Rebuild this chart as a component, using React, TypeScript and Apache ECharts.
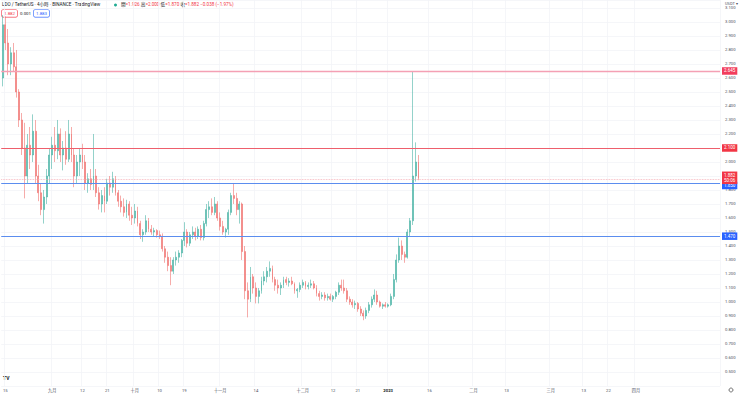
import React, { useEffect, useRef } from "react";
import * as echarts from "echarts";

// ---- data (daily approximation of the 4h LDO/USDT chart) ----
const startDate = "2022-08-14";
const totalDays = 261; // axis domain: Aug 14 2022 -> May 1 2023

const opens = [
  2.60, 2.98, 2.85, 2.70, 2.78, 2.68, 2.50, 2.30, 2.10, 1.90,
  2.12, 2.05, 2.22, 1.90, 1.78, 1.66, 1.75, 1.90, 2.05, 2.12,
  2.08, 2.20, 2.05, 2.10, 2.02, 2.20, 2.05, 1.90, 2.00, 2.05,
  2.00, 1.85, 1.88, 1.84, 1.90, 1.78, 1.70, 1.76, 1.72, 1.85,
  1.82, 1.88, 1.78, 1.72, 1.68, 1.64, 1.70, 1.62, 1.60, 1.65,
  1.56, 1.48, 1.50, 1.58, 1.52, 1.50, 1.51, 1.48, 1.47, 1.38,
  1.32, 1.26, 1.22, 1.30, 1.32, 1.35, 1.44, 1.50, 1.42, 1.48,
  1.50, 1.47, 1.52, 1.46, 1.56, 1.66, 1.68, 1.64, 1.70, 1.60,
  1.54, 1.50, 1.52, 1.64, 1.76, 1.74, 1.66, 1.70, 1.36, 1.08,
  1.02, 1.18, 1.10, 1.04, 1.08, 1.15, 1.18, 1.22, 1.24, 1.16,
  1.12, 1.10, 1.12, 1.16, 1.14, 1.15, 1.13, 1.08, 1.09, 1.12,
  1.14, 1.11, 1.12, 1.13, 1.10, 1.06, 1.04, 1.05, 1.03, 1.04,
  1.02, 1.04, 1.07, 1.12, 1.10, 1.08, 1.02, 1.00, 0.98, 0.99,
  0.95, 0.92, 0.90, 0.94, 0.98, 1.02, 1.05, 1.00, 0.97, 0.98,
  0.97, 0.98, 1.04, 1.16, 1.30, 1.40, 1.34, 1.32, 1.50, 1.58,
  1.90, 2.00,
];
const closes = [
  2.98, 2.85, 2.70, 2.78, 2.68, 2.50, 2.30, 2.10, 1.90, 2.12,
  2.05, 2.22, 1.90, 1.78, 1.66, 1.75, 1.90, 2.05, 2.12, 2.08,
  2.20, 2.05, 2.10, 2.02, 2.20, 2.05, 1.90, 2.00, 2.05, 2.00,
  1.85, 1.88, 1.84, 1.90, 1.78, 1.70, 1.76, 1.72, 1.85, 1.82,
  1.88, 1.78, 1.72, 1.68, 1.64, 1.70, 1.62, 1.60, 1.65, 1.56,
  1.48, 1.50, 1.58, 1.52, 1.50, 1.51, 1.48, 1.47, 1.38, 1.32,
  1.26, 1.22, 1.30, 1.32, 1.35, 1.44, 1.50, 1.42, 1.48, 1.50,
  1.47, 1.52, 1.46, 1.56, 1.66, 1.68, 1.64, 1.70, 1.60, 1.54,
  1.50, 1.52, 1.64, 1.76, 1.74, 1.66, 1.70, 1.36, 1.08, 1.02,
  1.18, 1.10, 1.04, 1.08, 1.15, 1.18, 1.22, 1.24, 1.16, 1.12,
  1.10, 1.12, 1.16, 1.14, 1.15, 1.13, 1.08, 1.09, 1.12, 1.14,
  1.11, 1.12, 1.13, 1.10, 1.06, 1.04, 1.05, 1.03, 1.04, 1.02,
  1.04, 1.07, 1.12, 1.10, 1.08, 1.02, 1.00, 0.98, 0.99, 0.95,
  0.92, 0.90, 0.94, 0.98, 1.02, 1.05, 1.00, 0.97, 0.98, 0.97,
  0.98, 1.04, 1.16, 1.30, 1.40, 1.34, 1.32, 1.50, 1.58, 1.90,
  2.00, 1.882,
];
const highs = [
  3.05, 3.04, 2.95, 2.82, 2.85, 2.80, 2.52, 2.35, 2.28, 2.20,
  2.25, 2.34, 2.30, 1.98, 1.85, 1.80, 1.95, 2.10, 2.18, 2.25,
  2.30, 2.24, 2.15, 2.22, 2.30, 2.25, 2.10, 2.05, 2.10, 2.13,
  2.05, 1.92, 1.95, 2.20, 1.95, 1.82, 1.80, 1.82, 1.88, 1.90,
  1.93, 1.90, 1.80, 1.76, 1.74, 1.73, 1.72, 1.68, 1.70, 1.68,
  1.58, 1.52, 1.62, 1.60, 1.55, 1.53, 1.52, 1.51, 1.49, 1.40,
  1.36, 1.32, 1.32, 1.36, 1.37, 1.45, 1.57, 1.52, 1.50, 1.54,
  1.53, 1.54, 1.55, 1.58, 1.70, 1.72, 1.74, 1.75, 1.72, 1.64,
  1.58, 1.53, 1.66, 1.78, 1.85, 1.78, 1.72, 1.71, 1.40, 1.14,
  1.25, 1.20, 1.14, 1.10, 1.18, 1.22, 1.25, 1.29, 1.26, 1.18,
  1.16, 1.14, 1.18, 1.18, 1.17, 1.18, 1.14, 1.10, 1.14, 1.16,
  1.15, 1.14, 1.16, 1.15, 1.12, 1.08, 1.07, 1.07, 1.06, 1.06,
  1.05, 1.08, 1.14, 1.16, 1.16, 1.10, 1.04, 1.02, 1.01, 1.00,
  0.97, 0.94, 0.96, 1.00, 1.04, 1.09, 1.08, 1.01, 0.99, 1.00,
  0.99, 1.06, 1.20, 1.34, 1.46, 1.44, 1.36, 1.52, 1.60, 2.645,
  2.14, 2.05,
];
const lows = [
  2.54, 2.80, 2.62, 2.62, 2.65, 2.46, 2.25, 2.05, 1.74, 1.85,
  1.95, 2.00, 1.85, 1.72, 1.62, 1.56, 1.70, 1.85, 1.95, 2.00,
  2.02, 2.00, 1.94, 1.98, 2.00, 2.00, 1.82, 1.85, 1.90, 1.95,
  1.80, 1.78, 1.80, 1.80, 1.75, 1.66, 1.64, 1.64, 1.70, 1.76,
  1.78, 1.76, 1.68, 1.64, 1.61, 1.60, 1.58, 1.55, 1.56, 1.54,
  1.45, 1.43, 1.48, 1.50, 1.48, 1.47, 1.46, 1.45, 1.36, 1.28,
  1.22, 1.12, 1.20, 1.26, 1.28, 1.32, 1.40, 1.39, 1.40, 1.45,
  1.44, 1.45, 1.44, 1.44, 1.54, 1.60, 1.62, 1.62, 1.58, 1.51,
  1.48, 1.46, 1.48, 1.62, 1.70, 1.62, 1.56, 1.30, 1.02, 0.89,
  1.00, 1.06, 0.99, 0.99, 1.06, 1.12, 1.14, 1.18, 1.14, 1.08,
  1.06, 1.05, 1.10, 1.12, 1.11, 1.12, 1.06, 1.03, 1.07, 1.10,
  1.09, 1.09, 1.10, 1.09, 1.04, 1.01, 1.02, 1.01, 1.01, 1.01,
  1.00, 1.02, 1.05, 1.08, 1.06, 1.00, 0.98, 0.96, 0.95, 0.93,
  0.90, 0.87, 0.88, 0.92, 0.96, 1.00, 0.98, 0.96, 0.95, 0.96,
  0.96, 0.97, 1.02, 1.14, 1.28, 1.30, 1.28, 1.31, 1.47, 1.55,
  1.86, 1.87,
];

// time-axis tick labels: [date, label]
const xTicks: [string, string][] = [
  ["2022-08-15", "15"],
  ["2022-09-01", "九月"],
  ["2022-09-12", "12"],
  ["2022-09-21", "21"],
  ["2022-10-01", "十月"],
  ["2022-10-10", "10"],
  ["2022-10-19", "19"],
  ["2022-11-01", "十一月"],
  ["2022-11-14", "14"],
  ["2022-12-01", "十二月"],
  ["2022-12-12", "12"],
  ["2022-12-21", "21"],
  ["2023-01-01", "2023"],
  ["2023-01-16", "16"],
  ["2023-02-01", "二月"],
  ["2023-02-13", "13"],
  ["2023-03-01", "三月"],
  ["2023-03-13", "13"],
  ["2023-03-22", "22"],
  ["2023-04-01", "四月"],
];

// price axis domain
const priceMin = 0.4;
const priceMax = 3.157;
const priceStep = 0.1;

// horizontal price levels
const levelValues = [2.645, 2.1, 1.85, 1.47];
const lastPrice = 1.882;
const countdown = "50:06";

// header
const headerTitle = "LDO / TetherUS · 4小時 · BINANCE · TradingView";
const ohlcLabels = ["開", "高", "低", "收"];
const ohlcValues = ["1.926", "2.000", "1.870", "1.882"];
const changeText = "−0.038 (−1.97%)";
const bidText = "1.882";
const spreadText = "0.001";
const askText = "1.883";

// ---- styles ----
const UP = "#4bb3a6";
const DOWN = "#f07371";
const FONT = 'Roboto, "Noto Sans CJK TC", "Noto Sans", sans-serif';
const levelStyles = [
  { line: "#f4a0b4", width: 1.4, box: "#f23d5c" },
  { line: "#ee5f6c", width: 1.1, box: "#f23645" },
  { line: "#5b8def", width: 1.2, box: "#2962ff" },
  { line: "#5b8def", width: 1.2, box: "#2962ff" },
];

function buildCategories(): string[] {
  const [y, m, d] = startDate.split("-").map(Number);
  const base = Date.UTC(y, m - 1, d);
  const out: string[] = [];
  for (let i = 0; i < totalDays; i++) {
    out.push(new Date(base + i * 86400000).toISOString().slice(0, 10));
  }
  return out;
}

export default function App() {
  const ref = useRef<HTMLDivElement>(null);

  useEffect(() => {
    if (!ref.current) return;
    const chart = echarts.init(ref.current, undefined, { renderer: "svg" });
    const categories = buildCategories();
    const tickMap = new Map(xTicks);
    const candleData = closes.map((c, i) => [opens[i], c, lows[i], highs[i]]);

    const labelBase = {
      show: true,
      position: "end",
      distance: 2,
      color: "#fff",
      fontSize: 4.5,
      fontFamily: FONT,
      padding: [1.5, 2, 1, 2],
      lineHeight: 5,
    };

    const markData: any[] = levelValues.map((v, i) => ({
      yAxis: v,
      lineStyle: { color: levelStyles[i].line, width: levelStyles[i].width, type: "solid" },
      label: {
        ...labelBase,
        backgroundColor: levelStyles[i].box,
        formatter: v.toFixed(3),
        offset: v === 1.85 ? [0, 2.5] : [0, 0],
      },
    }));
    markData.push({
      yAxis: lastPrice,
      lineStyle: { color: "#f5aab3", width: 0.8, type: "dotted" },
      label: {
        ...labelBase,
        backgroundColor: "#f23645",
        formatter: lastPrice.toFixed(3) + "\n" + countdown,
        offset: [0, -1],
      },
    });

    const ohlcRich =
      ohlcLabels.map((k, i) => `{k|${k}}{v|=${ohlcValues[i]}}`).join(" ") + ` {v|${changeText}}`;

    const option: any = {
      animation: false,
      backgroundColor: "#ffffff",
      grid: { left: 0, right: 20, top: 0, bottom: 9, containLabel: false },
      xAxis: {
        type: "category",
        data: categories,
        boundaryGap: true,
        axisLine: { show: false },
        axisTick: { show: false },
        axisLabel: {
          interval: (_idx: number, val: string) => tickMap.has(val),
          formatter: (val: string) => {
            const t = tickMap.get(val) || "";
            return t === "2023" ? `{b|${t}}` : t;
          },
          rich: { b: { fontWeight: "bold", color: "#131722", fontSize: 4.2, fontFamily: FONT } },
          fontSize: 4.2,
          color: "#4a4e5a",
          fontFamily: FONT,
          margin: 2,
        },
        splitLine: {
          show: true,
          interval: (_idx: number, val: string) => tickMap.has(val),
          lineStyle: { color: "#f3f4f8", width: 0.8 },
        },
      },
      yAxis: {
        type: "value",
        position: "right",
        min: priceMin,
        max: priceMax,
        interval: priceStep,
        axisLine: { show: false },
        axisTick: { show: false },
        axisLabel: {
          fontSize: 4.2,
          color: "#4a4e5a",
          fontFamily: FONT,
          margin: 5,
          showMaxLabel: false,
          formatter: (v: number) =>
            v < 0.45 || v > 3.12 ? "" : (Math.round(v * 10) / 10).toFixed(3),
        },
        splitLine: { show: true, lineStyle: { color: "#f3f4f8", width: 0.8 } },
      },
      series: [
        {
          type: "candlestick",
          data: candleData,
          barMaxWidth: 1.5,
          itemStyle: {
            color: UP,
            color0: DOWN,
            borderColor: UP,
            borderColor0: DOWN,
            borderWidth: 0.6,
          },
          markLine: {
            silent: true,
            symbol: "none",
            data: markData,
          },
        },
      ],
      graphic: [
        {
          type: "text",
          x: 2,
          y: 2.5,
          style: { text: headerTitle, fontSize: 4.6, fill: "#131722", fontFamily: FONT },
        },
        { type: "circle", shape: { cx: 115.5, cy: 5, r: 1.5 }, style: { fill: "#22ab94" } },
        {
          type: "text",
          x: 121,
          y: 2.5,
          style: {
            text: ohlcRich,
            fontSize: 4.6,
            fontFamily: FONT,
            rich: {
              k: { fill: "#131722", fontSize: 4.6, fontFamily: FONT },
              v: { fill: "#f23645", fontSize: 4.6, fontFamily: FONT },
            },
          },
        },
        {
          type: "text",
          x: 2,
          y: 10,
          style: {
            text: bidText,
            fontSize: 4.4,
            fontFamily: FONT,
            fill: "#f23645",
            backgroundColor: "#fff",
            borderColor: "#f23645",
            borderWidth: 0.6,
            borderRadius: 1,
            padding: [1.2, 2],
          },
        },
        {
          type: "text",
          x: 20,
          y: 11.2,
          style: { text: spreadText, fontSize: 4.4, fontFamily: FONT, fill: "#131722" },
        },
        {
          type: "text",
          x: 34,
          y: 10,
          style: {
            text: askText,
            fontSize: 4.4,
            fontFamily: FONT,
            fill: "#2962ff",
            backgroundColor: "#fff",
            borderColor: "#2962ff",
            borderWidth: 0.6,
            borderRadius: 1,
            padding: [1.2, 2],
          },
        },
        {
          type: "text",
          x: 725,
          y: 1,
          style: { text: "USDT ▾", fontSize: 4, fontFamily: FONT, fill: "#4a4e5a" },
        },
        {
          type: "text",
          x: 3,
          y: 375,
          style: { text: "TV", fontSize: 5, fontWeight: "bold", fontFamily: FONT, fill: "#131722" },
        },
        {
          type: "circle",
          shape: { cx: 731, cy: 390, r: 2 },
          style: { fill: "none", stroke: "#555", lineWidth: 0.8 },
        },
      ],
    };

    chart.setOption(option);
    return () => chart.dispose();
  }, []);

  return (
    <div
      ref={ref}
      style={{ position: "fixed", left: 0, top: 0, width: 740, height: 395, background: "#fff" }}
    />
  );
}
